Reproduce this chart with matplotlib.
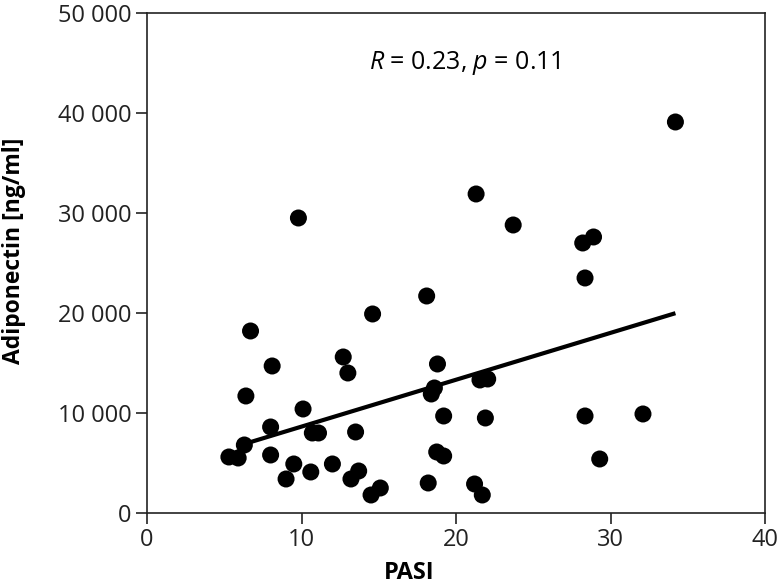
import matplotlib
matplotlib.use("Agg")
import matplotlib.pyplot as plt
from matplotlib.ticker import FuncFormatter

pasi = [5.3, 5.9, 6.3, 6.4, 6.7, 8.0, 8.0, 8.1, 9.0, 9.5, 9.8, 10.1, 10.7, 10.6,
        11.1, 12.0, 12.7, 13.0, 13.2, 13.5, 13.7, 14.5, 14.6, 15.1, 18.1, 18.2,
        18.4, 18.6, 18.8, 18.75, 19.2, 19.2, 21.2, 21.3, 21.55, 21.7, 21.9, 22.05,
        23.7, 28.2, 28.9, 28.35, 28.35, 29.3, 32.1, 34.2]
adiponectin = [5600, 5500, 6800, 11700, 18200, 8600, 5800, 14700, 3400, 4900,
               29500, 10400, 8000, 4100, 8000, 4900, 15600, 14000, 3400, 8100,
               4200, 1800, 19900, 2500, 21700, 3000, 11900, 12500, 14900, 6100,
               5700, 9700, 2900, 31900, 13300, 1800, 9500, 13400, 28800, 27000,
               27600, 23500, 9700, 5400, 9900, 39100]
fit_x = [6.4, 34.2]
fit_y = [6950, 19980]
x_ticks = [0, 10, 20, 30, 40]
y_ticks = [0, 10000, 20000, 30000, 40000, 50000]
annotation = r"$\mathit{R}$ = 0.23, $\mathit{p}$ = 0.11"

plt.rcParams['font.family'] = ['Open Sans', 'DejaVu Sans']
plt.rcParams['mathtext.fontset'] = 'custom'
plt.rcParams['mathtext.it'] = 'Open Sans:italic'
plt.rcParams['mathtext.rm'] = 'Open Sans'

fig = plt.figure(figsize=(7.77, 5.85), dpi=100)
ax = fig.add_axes([0.1892, 0.1231, 0.9846 - 0.1892, 0.9778 - 0.1231])

ax.scatter(pasi, adiponectin, s=150, color='black', edgecolors='none', zorder=3)
ax.plot(fit_x, fit_y, color='black', lw=3, solid_capstyle='butt', zorder=2)

ax.set_xlim(0, 40)
ax.set_ylim(0, 50000)
ax.set_xticks(x_ticks)
ax.set_yticks(y_ticks)
ax.yaxis.set_major_formatter(FuncFormatter(lambda v, p: f"{int(v):,}".replace(",", " ")))

for s in ax.spines.values():
    s.set_linewidth(1.2)
    s.set_color('#222222')
ax.tick_params(direction='out', length=8, width=1.2, labelsize=17, pad=3, colors='#222222')

ax.set_xlabel('PASI', fontsize=17, fontweight='bold', ha='center', va='center')
ax.xaxis.set_label_coords(0.424, -0.12)
ax.set_ylabel('Adiponectin [ng/ml]', fontsize=16.5, fontweight='bold', ha='center', va='center')
ax.yaxis.set_label_coords(-0.215, 0.524)

ax.text(20.6, 45000, annotation, fontsize=18, ha='center', va='center')

fig.savefig('out.png', dpi=100)
